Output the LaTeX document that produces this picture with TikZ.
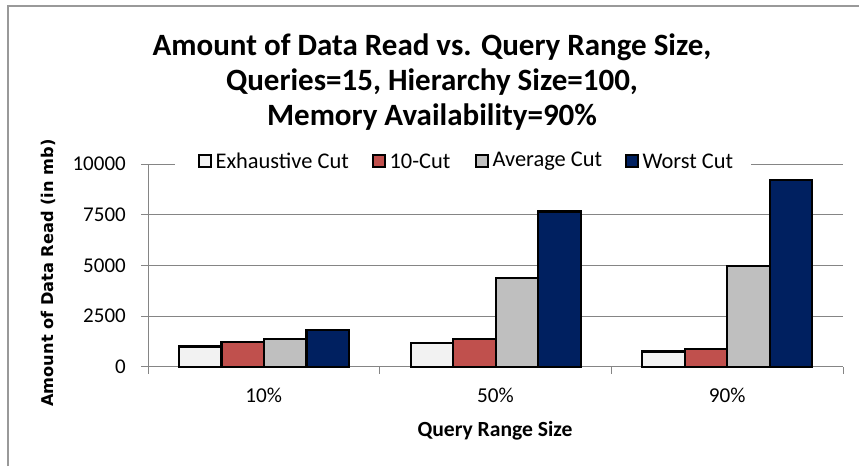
\documentclass[tikz,border=0pt]{standalone}
\usepackage{fontspec}
\setmainfont{Carlito}
\newfontfamily\ylabfont{DejaVu Sans}
\usepackage{xcolor}
\usetikzlibrary{positioning}
\definecolor{exhcol}{RGB}{242,242,242}
\definecolor{tencol}{RGB}{192,80,77}
\definecolor{avgcol}{RGB}{191,191,191}
\definecolor{worstcol}{RGB}{0,32,96}

\begin{document}
\begin{tikzpicture}[x=1pt,y=-1pt,
		frame/.style={draw=black!40,line width=1.6pt},
		gridline/.style={draw=black!48,line width=1pt},
		bar/.style={draw=black,line width=2.3pt},
		ticklab/.style={font=\fontsize{21}{24}\selectfont,anchor=east,inner sep=0pt},
		catlab/.style={font=\fontsize{21.2}{24}\selectfont,inner sep=0pt},
		legmark/.style={draw=black,line width=2.3pt,minimum size=11.5pt,inner sep=0pt},
		legtext/.style={font=\fontsize{22.4}{25}\selectfont,inner sep=0pt,right=3.5pt of #1},
		]
		\useasboundingbox (0,0) rectangle (859,466);
		% chart area frame (clipped on the right and bottom)
		\draw[frame] (8,466) -- (8,6) -- (859,6);
		
		% title and axis titles
		\node[font=\bfseries\fontsize{31}{35}\selectfont,align=center] (title) at (432,82)
		{Amount of Data Read vs. Query Range Size,\\ Queries=15, Hierarchy Size=100,\\ Memory Availability=90\%};
		\node[font=\ylabfont\bfseries\fontsize{16.2}{19}\selectfont,rotate=90] (ylab) at (48,273)
		{Amount of Data Read (in mb)};
		\node[font=\bfseries\fontsize{21.6}{24}\selectfont] (xlab) at (495,431) {Query Range Size};
		
		% plot area, y in data units
		\begin{scope}[shift={(0,366.7)},y=0.02027pt]
			\draw[gridline] (141,10000) -- (843,10000);
			\draw[gridline] (141,7500) -- (843,7500);
			\draw[gridline] (141,5000) -- (843,5000);
			\draw[gridline] (141,2500) -- (843,2500);
			\draw[gridline] (141,0) -- (843,0);
			\draw[gridline] (148,0) -- (148,10000);
			\node[ticklab] (t10000) at (126,10000) {10000};
			\node[ticklab] (t7500) at (126,7500) {7500};
			\node[ticklab] (t5000) at (126,5000) {5000};
			\node[ticklab] (t2500) at (126,2500) {2500};
			\node[ticklab] (t0) at (126,0) {0};
			
			% 10%
			\draw[bar,fill=exhcol] (179,0) rectangle (221.5,1000);
			\draw[bar,fill=tencol] (221.5,0) rectangle (264,1217);
			\draw[bar,fill=avgcol] (264,0) rectangle (306.5,1380);
			\draw[bar,fill=worstcol] (306.5,0) rectangle (349,1810);
			% 50%
			\draw[bar,fill=exhcol] (410.7,0) rectangle (453.2,1170);
			\draw[bar,fill=tencol] (453.2,0) rectangle (495.7,1365);
			\draw[bar,fill=avgcol] (495.7,0) rectangle (538.2,4374);
			\draw[bar,fill=worstcol] (538.2,0) rectangle (580.7,7660);
			% 90%
			\draw[bar,fill=exhcol] (642.3,0) rectangle (684.8,755);
			\draw[bar,fill=tencol] (684.8,0) rectangle (727.3,888);
			\draw[bar,fill=avgcol] (727.3,0) rectangle (769.8,4980);
			\draw[bar,fill=worstcol] (769.8,0) rectangle (812.3,9220);
		\end{scope}
		
		% category ticks and labels
		\draw[gridline] (148,367) -- (148,374);
		\draw[gridline] (379.7,367) -- (379.7,374);
		\draw[gridline] (611.3,367) -- (611.3,374);
		\draw[gridline] (843,367) -- (843,374);
		\node[catlab] (c10) at (263.8,395) {10\%};
		\node[catlab] (c50) at (495.5,395) {50\%};
		\node[catlab] (c90) at (727.2,395) {90\%};
		
		% legend
		\node[fill=white,minimum width=576pt,minimum height=22pt,inner sep=0pt] (legend) at (463,161) {};
		\node[legmark,fill=exhcol] (m1) at (205,161) {};
		\node[legtext=m1] (l1) {Exhaustive Cut};
		\node[legmark,fill=tencol] (m2) at (379,161) {};
		\node[legtext=m2] (l2) {10-Cut};
		\node[legmark,fill=avgcol] (m3) at (482,161) {};
		\node[legtext=m3] (l3) {Average Cut};
		\node[legmark,fill=worstcol] (m4) at (632,161) {};
		\node[legtext=m4] (l4) {Worst Cut};
	\end{tikzpicture}
\end{document}
